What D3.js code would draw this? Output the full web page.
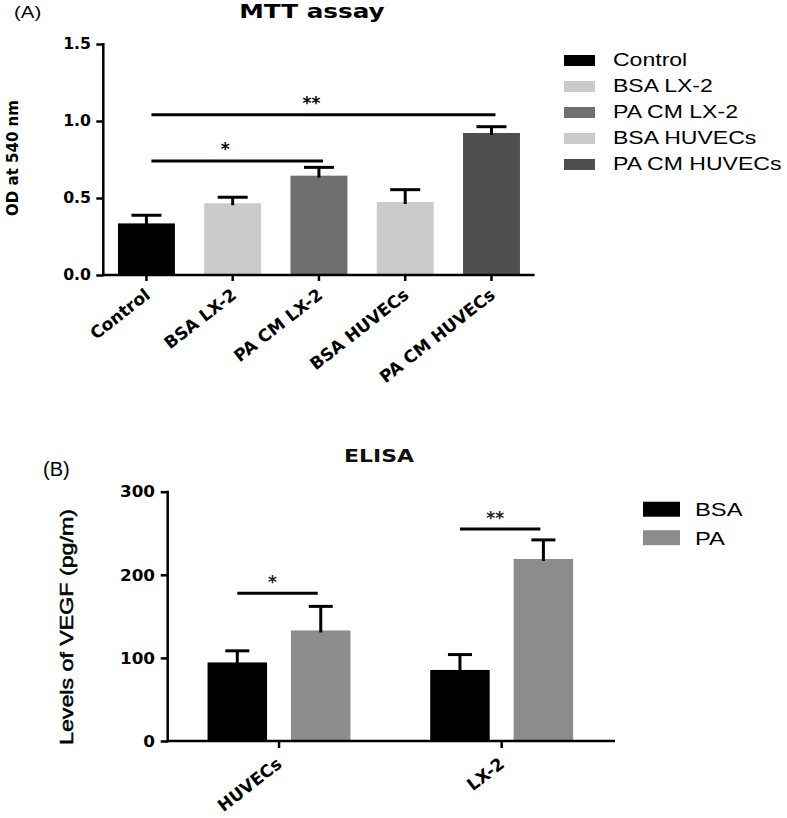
<!DOCTYPE html>
<html>
<head>
<meta charset="utf-8">
<script src="https://cdn.jsdelivr.net/npm/d3@7"></script>
<style>
  html, body { margin: 0; padding: 0; background: #fff; }
  svg { display: block; }
</style>
</head>
<body>
<script>
// ---------- DATA ----------
const mttCategories = ["Control", "BSA LX-2", "PA CM LX-2", "BSA HUVECs", "PA CM HUVECs"];
const mttMeans = [0.335, 0.466, 0.645, 0.474, 0.922];
const mttErrors = [0.053, 0.039, 0.054, 0.080, 0.041];
const mttColors = ["#000000", "#cbcbcb", "#6f6f6f", "#cbcbcb", "#4f4f4f"];
const mttTicks = [0, 0.5, 1.0, 1.5];
const mttSig = [
  { from: "Control", to: "PA CM LX-2", y: 0.74, label: "*" },
  { from: "Control", to: "PA CM HUVECs", y: 1.04, label: "**" }
];

const elisaGroups = ["HUVECs", "LX-2"];
const elisaSeries = ["BSA", "PA"];
const elisaBSA = [94.5, 85.5];
const elisaPA = [133, 219];
const elisaBSAErr = [14, 18.5];
const elisaPAErr = [29, 23];
const elisaColors = ["#000000", "#8c8c8c"];
const elisaTicks = [0, 100, 200, 300];
const elisaSig = [
  { group: "HUVECs", y: 177.7, label: "*" },
  { group: "LX-2", y: 255, label: "**" }
];

// ---------- SETUP ----------
const W = 787, H = 818;
const svg = d3.select("body").append("svg").attr("width", W).attr("height", H);
const BOLD = "'DejaVu Sans', sans-serif";
const REG = "'Liberation Sans', Arial, sans-serif";

function txt(g, s, x, y, opt) {
  const t = g.append("text")
    .text(s)
    .attr("font-family", opt.family || REG)
    .attr("font-weight", opt.weight || "normal")
    .attr("font-size", opt.size)
    .attr("fill", opt.fill || "#000")
    .attr("text-anchor", opt.anchor || "start");
  if (opt.dy) t.attr("dy", opt.dy);
  const sx = opt.sx || 1;
  let tr = `translate(${x},${y})`;
  if (opt.rotate !== undefined) tr += ` rotate(${opt.rotate})`;
  tr += ` scale(${sx},1)`;
  t.attr("transform", tr);
  return t;
}
function styleAxis(ax) {
  ax.select(".domain").remove();
  ax.selectAll(".tick line").attr("stroke", "#000").attr("stroke-width", 2.5);
  ax.selectAll(".tick text").remove();
}

// =============== PANEL A ===============
const gA = svg.append("g");
const xA = d3.scaleBand().domain(mttCategories).range([103.3, 534.6]).paddingInner(0.34).paddingOuter(0.17);
const yA = d3.scaleLinear().domain([0, 1.5]).range([275, 44]);

gA.selectAll("rect.bar").data(mttCategories).enter().append("rect")
  .attr("x", d => xA(d)).attr("width", xA.bandwidth())
  .attr("y", (d, i) => yA(mttMeans[i]))
  .attr("height", (d, i) => yA(0) - yA(mttMeans[i]))
  .attr("fill", (d, i) => mttColors[i]);

const capA = 30;
mttCategories.forEach((c, i) => {
  const cx = xA(c) + xA.bandwidth() / 2;
  const top = yA(mttMeans[i] + mttErrors[i]);
  gA.append("line").attr("x1", cx).attr("x2", cx).attr("y1", yA(mttMeans[i]) + 2).attr("y2", top)
    .attr("stroke", "#000").attr("stroke-width", 3);
  gA.append("line").attr("x1", cx - capA / 2).attr("x2", cx + capA / 2).attr("y1", top).attr("y2", top)
    .attr("stroke", "#000").attr("stroke-width", 3);
});

const axA_y = gA.append("g").attr("transform", `translate(103.3,0)`)
  .call(d3.axisLeft(yA).tickValues(mttTicks).tickSize(7).tickSizeOuter(0));
const axA_x = gA.append("g").attr("transform", `translate(0,275)`)
  .call(d3.axisBottom(xA).tickSize(6).tickSizeOuter(0));
styleAxis(axA_y); styleAxis(axA_x);
gA.append("line").attr("x1", 103.3).attr("x2", 103.3).attr("y1", yA(1.5) - 1).attr("y2", yA(0) + 1.25)
  .attr("stroke", "#000").attr("stroke-width", 2.5);
gA.append("line").attr("x1", 102).attr("x2", 534.6).attr("y1", yA(0)).attr("y2", yA(0))
  .attr("stroke", "#000").attr("stroke-width", 2.5);

mttTicks.forEach(v => {
  txt(gA, d3.format(".1f")(v), 91, yA(v), { family: BOLD, weight: "bold", size: 15, anchor: "end", dy: "0.36em", sx: 1.05 });
});

mttCategories.forEach(c => {
  const cx = xA(c) + xA.bandwidth() / 2;
  txt(gA, c, cx - 3, 287, { family: BOLD, weight: "bold", size: 17, anchor: "end", dy: "0.75em", rotate: -38 });
});

txt(gA, "OD at 540 nm", 18, 158, { family: BOLD, weight: "bold", size: 15, anchor: "middle", rotate: -90 });

txt(gA, "MTT assay", 312, 18, { family: BOLD, weight: "bold", size: 19, anchor: "middle", sx: 1.3 });
txt(gA, "(A)", 14, 18, { family: REG, size: 17, sx: 1.2 });

mttSig.forEach(s => {
  const x1 = xA(s.from) + xA.bandwidth() / 2 + 5;
  const x2 = xA(s.to) + xA.bandwidth() / 2 + 4;
  gA.append("line").attr("x1", x1).attr("x2", x2).attr("y1", yA(s.y)).attr("y2", yA(s.y))
    .attr("stroke", "#000").attr("stroke-width", 3);
  txt(gA, s.label, (x1 + x2) / 2 - 12, yA(s.y) - 6, { family: BOLD, weight: "bold", size: 17, anchor: "middle" });
});

const legA = gA.append("g");
mttCategories.forEach((c, i) => {
  legA.append("rect").attr("x", 564).attr("y", 55 + i * 26).attr("width", 31).attr("height", 11)
    .attr("fill", mttColors[i]);
  txt(legA, c, 613, 66 + i * 26, { family: REG, size: 18, sx: 1.28 });
});

// =============== PANEL B ===============
const gB = svg.append("g");
const x0 = d3.scaleBand().domain(elisaGroups).range([167.7, 613]).paddingInner(0.358).paddingOuter(0.179);
const x1 = d3.scaleBand().domain(elisaSeries).range([0, x0.bandwidth()]).paddingInner(0.287).paddingOuter(0);
const yB = d3.scaleLinear().domain([0, 300]).range([741, 491.7]);

const seriesVals = { BSA: elisaBSA, PA: elisaPA };
const seriesErr = { BSA: elisaBSAErr, PA: elisaPAErr };
const capB = 24;

elisaGroups.forEach((g, gi) => {
  elisaSeries.forEach((s, si) => {
    const v = seriesVals[s][gi];
    const e = seriesErr[s][gi];
    const bx = x0(g) + x1(s);
    gB.append("rect").attr("x", bx).attr("width", x1.bandwidth())
      .attr("y", yB(v)).attr("height", yB(0) - yB(v)).attr("fill", elisaColors[si]);
    const cx = bx + x1.bandwidth() / 2;
    const top = yB(v + e);
    gB.append("line").attr("x1", cx).attr("x2", cx).attr("y1", yB(v) + 2).attr("y2", top)
      .attr("stroke", "#000").attr("stroke-width", 3);
    gB.append("line").attr("x1", cx - capB / 2).attr("x2", cx + capB / 2).attr("y1", top).attr("y2", top)
      .attr("stroke", "#000").attr("stroke-width", 3);
  });
});

const axB_y = gB.append("g").attr("transform", `translate(167.7,0)`)
  .call(d3.axisLeft(yB).tickValues(elisaTicks).tickSize(7).tickSizeOuter(0));
const axB_x = gB.append("g").attr("transform", `translate(0,741)`)
  .call(d3.axisBottom(x0).tickSize(7).tickSizeOuter(0));
styleAxis(axB_y); styleAxis(axB_x);
gB.append("line").attr("x1", 167.7).attr("x2", 167.7).attr("y1", yB(300) - 1).attr("y2", yB(0) + 1.25)
  .attr("stroke", "#000").attr("stroke-width", 2.5);
gB.append("line").attr("x1", 166.4).attr("x2", 615).attr("y1", yB(0)).attr("y2", yB(0))
  .attr("stroke", "#000").attr("stroke-width", 2.5);

elisaTicks.forEach(v => {
  txt(gB, String(v), 155, yB(v), { family: BOLD, weight: "bold", size: 16, anchor: "end", dy: "0.36em", sx: 1.05 });
});

elisaGroups.forEach(g => {
  const cx = x0(g) + x0.bandwidth() / 2;
  txt(gB, g, cx - 4, 756, { family: BOLD, weight: "bold", size: 17, anchor: "end", dy: "0.75em", rotate: -38 });
});

txt(gB, "Levels of VEGF (pg/m)", 73, 627, { family: REG, size: 18, anchor: "middle", rotate: -90, sx: 1.29 })
  .attr("stroke", "#000").attr("stroke-width", 0.5);

txt(gB, "ELISA", 379, 462, { family: BOLD, weight: "bold", size: 18, anchor: "middle", sx: 1.22, fill: "#111" });
txt(gB, "(B)", 43, 476, { family: REG, size: 20 });

elisaSig.forEach(s => {
  const xa = x0(s.group) + x1("BSA") + x1.bandwidth() / 2;
  const xb = x0(s.group) + x1("PA") + x1.bandwidth() / 2 - 3;
  gB.append("line").attr("x1", xa).attr("x2", xb).attr("y1", yB(s.y)).attr("y2", yB(s.y))
    .attr("stroke", "#000").attr("stroke-width", 3);
  txt(gB, s.label, (xa + xb) / 2 - 5, yB(s.y) - 5, { family: BOLD, weight: "bold", size: 17, anchor: "middle", fill: "#222" });
});

const legB = gB.append("g");
elisaSeries.forEach((s, i) => {
  legB.append("rect").attr("x", 643).attr("y", 501.7 + i * 28.5).attr("width", 37).attr("height", 15)
    .attr("fill", elisaColors[i]);
  txt(legB, s, 695, 515.7 + i * 29.3, { family: REG, size: 19, sx: 1.25 });
});
</script>
</body>
</html>
